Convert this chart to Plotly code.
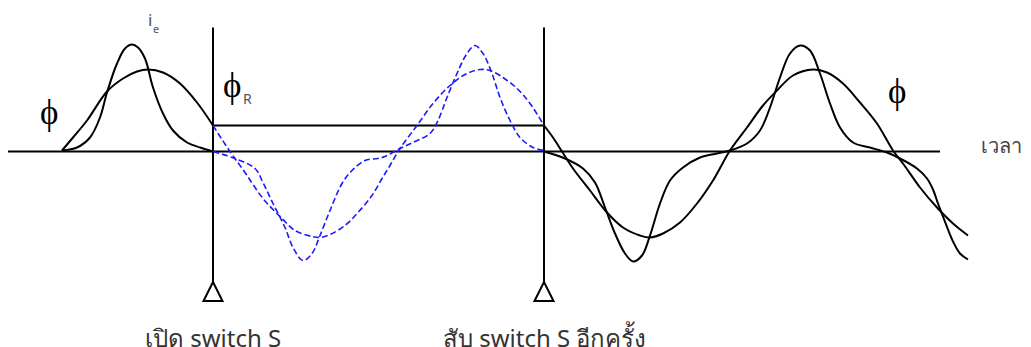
import plotly.graph_objects as go

# ---- data (time in arbitrary units, flux / current in arbitrary units) ----
switch_open = 213
switch_close = 544
phi_residual = 26
axis_start, axis_end = 8, 940
marker_top, marker_bottom = 124, -130.5

t_phi_before = [62, 73, 87, 107, 123, 137, 148, 163, 180, 197, 213]
phi_before = [1, 14, 31, 60, 73, 80, 82, 79, 68, 49, 26]

t_ie_before = [62, 77, 90, 100, 107, 117, 125, 132, 138, 145, 153, 163, 173, 187, 200, 213]
ie_before = [1, 4, 14, 34, 59, 88, 103, 107, 104, 93, 64, 38, 21, 9, 4, 0]

t_phi_open = [213, 230, 245, 263, 282, 295, 312, 320, 330, 345, 358, 372, 382, 390, 400,
              417, 433, 450, 467, 480, 490, 503, 517, 530, 544]
phi_open = [26, 0, -21, -47, -67, -79, -85, -86, -83, -74, -61, -44, -27, -14, 3,
            26, 48, 66, 78, 82, 81, 74, 63, 48, 26]

t_ie_open = [213, 235, 255, 263, 273, 285, 293, 303, 312, 320, 330, 342, 352, 365, 378, 385,
             400, 413, 430, 438, 447, 457, 467, 475, 483, 492, 500, 510, 520, 533, 544]
ie_open = [0, -7, -17, -31, -52, -76, -96, -109, -102, -84, -59, -32, -19, -9, -7, -5,
           3, 9, 18, 31, 54, 78, 98, 106, 98, 78, 54, 31, 14, 4, 1]

t_phi_after = [544, 553, 562, 573, 590, 607, 623, 640, 650, 663, 680, 697, 713, 730, 747,
               763, 777, 793, 813, 827, 843, 860, 877, 893, 903, 920, 937, 953, 968]
phi_after = [26, 14, 0, -17, -39, -61, -76, -84, -86, -82, -71, -52, -29, 1, 24,
             46, 61, 76, 82, 79, 68, 49, 28, 1, -12, -36, -56, -72, -84]

t_ie_after = [544, 565, 583, 595, 605, 615, 625, 633, 642, 650, 660, 670, 683, 700, 717, 730,
              747, 760, 770, 780, 790, 800, 810, 820, 830, 840, 853, 870, 887, 900, 917,
              927, 933, 938, 943, 948, 953, 960, 968]
ie_after = [0, -7, -17, -31, -56, -82, -102, -110, -104, -84, -52, -29, -16, -6, -2, 1,
            8, 21, 44, 74, 98, 106, 101, 78, 48, 24, 9, 4, -1, -7, -17,
            -27, -38, -52, -65, -78, -90, -102, -108]

BLACK = "#000000"
BLUE = "#1a1aff"

fig = go.Figure()

def line(x, y, color=BLACK, width=2, dash=None, shape="linear"):
    fig.add_trace(go.Scatter(x=x, y=y, mode="lines",
                             line=dict(color=color, width=width, dash=dash, shape=shape,
                                       smoothing=1.0 if shape == "spline" else None),
                             hoverinfo="skip", showlegend=False))

# time axis
line([axis_start, axis_end], [0, 0])
# switch instants
line([switch_open, switch_open], [marker_top, marker_bottom])
line([switch_close, switch_close], [marker_top, marker_bottom])
# residual flux
line([switch_open, switch_close], [phi_residual, phi_residual])

# curves
line(t_phi_before, phi_before, shape="spline")
line(t_ie_before, ie_before, shape="spline")
line(t_phi_open, phi_open, color=BLUE, width=1.6, dash="6px,3px", shape="spline")
line(t_ie_open, ie_open, color=BLUE, width=1.6, dash="6px,3px", shape="spline")
line(t_phi_after, phi_after, shape="spline")
line(t_ie_after, ie_after, shape="spline")

# switch markers
fig.add_trace(go.Scatter(x=[switch_open, switch_close], y=[marker_bottom, marker_bottom],
                         mode="markers",
                         marker=dict(symbol="arrow-up-open", size=19,
                                     color=BLACK, line=dict(color=BLACK, width=2)),
                         hoverinfo="skip", showlegend=False))

SERIF = "Liberation Serif, DejaVu Serif, Times New Roman, serif"
SANS = "Noto Sans, Roboto, sans-serif"

def label(x, y, text, size, family, color="#000000", xanchor="center", yanchor="middle"):
    fig.add_annotation(x=x, y=y, xref="x", yref="y", text=text, showarrow=False,
                       font=dict(size=size, family=family, color=color),
                       xanchor=xanchor, yanchor=yanchor)

PHI = "\u03d5"
label(49, 39, PHI, 35, SERIF)
label(897, 60, PHI, 35, SERIF)
label(232, 66, PHI, 35, SERIF)
label(247, 53, "R", 14, SANS, color="#555555")
label(150, 132, "i", 17, SANS, color="#555555")
label(156, 123, "e", 11, SANS, color="#555555")
label(1001, 6, "เวลา", 20, SANS, color="#444444")
label(switch_open, -167, "เปิด switch S", 24, SANS, color="#333333", yanchor="top")
label(switch_close, -167, "สับ switch S อีกครั้ง", 24, SANS, color="#333333", yanchor="top")

# the page body adds an 8px offset; shift the ranges so marks land where intended
fig.update_layout(
    width=1031, height=347,
    margin=dict(l=0, r=0, t=0, b=0),
    paper_bgcolor="white", plot_bgcolor="white",
    xaxis=dict(range=[8, 1039], visible=False, fixedrange=True),
    yaxis=dict(range=[-203.5, 143.5], visible=False, fixedrange=True),
    showlegend=False,
)

fig.write_html("out.html")
